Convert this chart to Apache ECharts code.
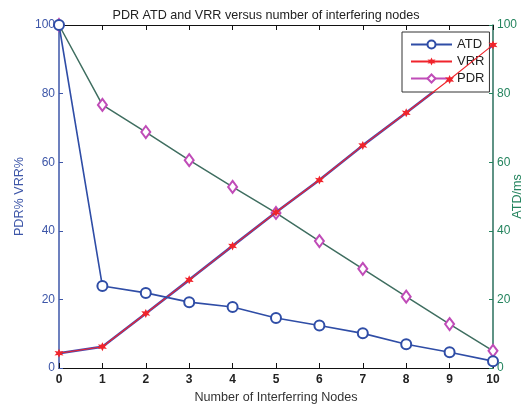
<!DOCTYPE html>
<html>
<head>
<meta charset="utf-8">
<script src="https://cdn.jsdelivr.net/npm/echarts@6/dist/echarts.min.js"></script>
<style>html,body{margin:0;padding:0;background:#fff;}#c{width:532px;height:407px;}</style>
</head>
<body>
<div id="c"></div>
<script>
var nodes = [0, 1, 2, 3, 4, 5, 6, 7, 8, 9, 10];
var atd = [100, 23.9, 21.9, 19.2, 17.8, 14.6, 12.4, 10.1, 6.9, 4.6, 2.0];
var vrr = [4.3, 6.2, 15.9, 25.7, 35.6, 45.4, 54.8, 64.9, 74.4, 84.1, 94.2];
var pdr = [100, 76.7, 68.8, 60.6, 52.8, 45.2, 37.0, 28.9, 20.8, 12.8, 5.0];
var yTicks = [0, 20, 40, 60, 80, 100];

function pairs(v){ return nodes.map(function(x,i){ return [x, v[i]]; }); }

var blue = '#2f4da6', red = '#f0242c', mag = '#c04cb8', pdrLine = '#3f6e60';
var leftCol = '#3d56a8', rightCol = '#24845e';
var star = 'path://M0,-100L24,-41.6L86.6,-50L48,0L86.6,50L24,41.6L0,100L-24,41.6L-86.6,50L-48,0L-86.6,-50L-24,-41.6Z';

var chart = echarts.init(document.getElementById('c'));
chart.setOption({
  animation: false,
  backgroundColor: '#fff',
  textStyle: { fontFamily: 'Liberation Sans, Arial, sans-serif' },
  title: {
    text: 'PDR ATD and VRR versus number of interfering nodes',
    left: 'center', top: 4,
    textStyle: { fontSize: 12.6, fontWeight: 'normal', color: '#222' }
  },
  grid: { left: 59, right: 39, top: 25, bottom: 39, containLabel: false, outerBoundsMode: 'none' },
  legend: {
    left: 402, top: 32, orient: 'vertical',
    data: [
      { name: 'ATD' },
      { name: 'VRR' },
      { name: 'PDR', lineStyle: { color: mag }, itemStyle: { color: mag } }
    ],
    itemWidth: 41, itemHeight: 10, itemGap: 4,
    padding: [6, 5, 7, 8],
    borderColor: '#333', borderWidth: 1, backgroundColor: '#fff',
    textStyle: { fontSize: 13, color: '#222' }
  },
  xAxis: [{
    type: 'value', min: 0, max: 10, interval: 1,
    name: 'Number of Interferring Nodes', nameLocation: 'middle', nameGap: 21,
    nameTextStyle: { fontSize: 12.6, color: '#333' },
    axisLine: { onZero: false, lineStyle: { color: '#111', width: 1.2 } },
    axisTick: { inside: true, length: 5, lineStyle: { color: '#111' } },
    axisLabel: { fontSize: 12, fontWeight: 'bold', color: '#222', margin: 6 },
    splitLine: { show: false }
  }, {
    type: 'value', min: 0, max: 10, interval: 1, position: 'top',
    axisLine: { onZero: false, lineStyle: { color: '#111', width: 1.2 } },
    axisTick: { inside: true, length: 5, lineStyle: { color: '#111' } },
    axisLabel: { show: false },
    splitLine: { show: false }
  }],
  yAxis: [{
    type: 'value', min: 0, max: 100, interval: 20, position: 'left',
    name: 'PDR% VRR%', nameLocation: 'middle', nameGap: 33, nameMoveOverlap: false,
    nameTextStyle: { fontSize: 12.6, color: leftCol },
    axisLine: { show: true, onZero: false, lineStyle: { color: leftCol, width: 1.5 } },
    axisTick: { show: true, inside: true, length: 4, lineStyle: { color: leftCol } },
    axisLabel: { fontSize: 12, color: leftCol, margin: 4, formatter: function(v){ return yTicks.indexOf(v) >= 0 ? String(v) : ''; } },
    splitLine: { show: false }
  }, {
    type: 'value', min: 0, max: 100, interval: 20, position: 'right',
    name: 'ATD/ms', nameLocation: 'middle', nameGap: 18, nameMoveOverlap: false,
    nameTextStyle: { fontSize: 12.6, color: rightCol },
    axisLine: { show: true, onZero: false, lineStyle: { color: '#2a6f5c', width: 1.5 } },
    axisTick: { show: true, inside: true, length: 4, lineStyle: { color: rightCol } },
    axisLabel: { fontSize: 12, color: rightCol, margin: 4 },
    splitLine: { show: false }
  }],
  series: [
    {
      name: 'PDR', type: 'line', data: pairs(pdr),
      symbol: 'emptyDiamond', symbolSize: [9, 12],
      lineStyle: { color: pdrLine, width: 1.5 },
      itemStyle: { color: mag, borderWidth: 1.5 }, z: 2
    },
    {
      name: 'VRRunder', type: 'line', data: pairs(vrr),
      symbol: 'none', lineStyle: { color: '#4a4ab0', width: 2.6 }, z: 3, silent: true
    },
    {
      name: 'VRR', type: 'line', data: pairs(vrr),
      symbol: star, symbolSize: 9,
      lineStyle: { color: red, width: 1.1 },
      itemStyle: { color: red }, z: 4
    },
    {
      name: 'ATD', type: 'line', data: pairs(atd), yAxisIndex: 1,
      symbol: 'emptyCircle', symbolSize: 10,
      lineStyle: { color: blue, width: 1.6 },
      itemStyle: { color: blue, borderWidth: 1.6 }, z: 5
    }
  ]
});
</script>
</body>
</html>
